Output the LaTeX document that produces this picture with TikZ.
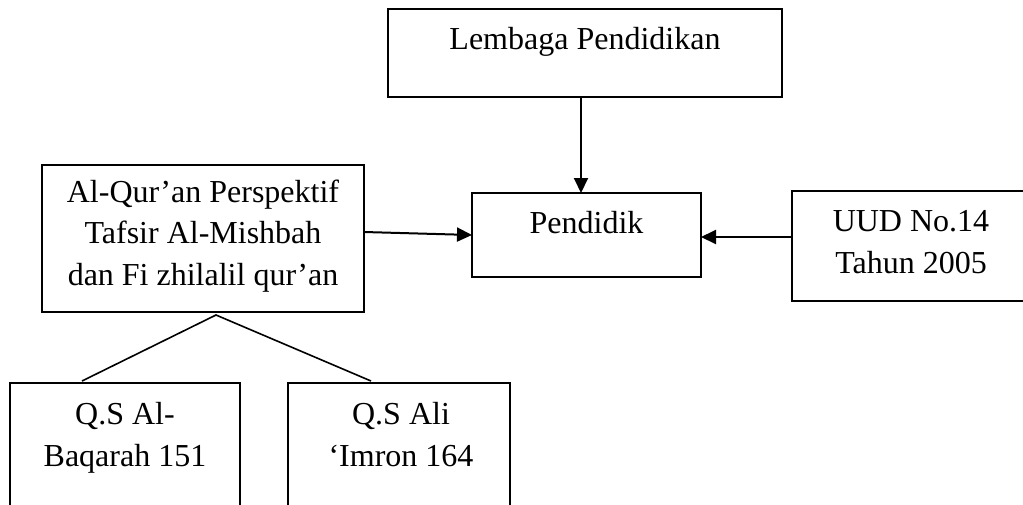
\documentclass[tikz,border=0pt]{standalone}
\usepackage{fontspec}
\setmainfont{Liberation Serif}
\usetikzlibrary{arrows.meta}
\begin{document}
\begin{tikzpicture}[x=1pt,y=-1pt,
  box/.style={draw=black,line width=1.8pt,inner sep=0pt,outer sep=0pt,rectangle},
  txt/.style={inner sep=0pt,anchor=base,align=center,font=\fontsize{32}{41.5}\selectfont},
  arr/.style={line width=2pt,-{Triangle[length=15pt,width=14pt]}},
  ln/.style={line width=1.6pt}]
\clip (0,0) rectangle (1023,504);
\fill[white] (0,0) rectangle (1023,504);
% boxes
\node[box,minimum width=394pt,minimum height=88pt] (lem) at (585,53) {};
\node[box,minimum width=229pt,minimum height=84pt] (pend) at (586.5,235) {};
\node[box,minimum width=322pt,minimum height=147pt] (alq) at (203,238.5) {};
\node[box,minimum width=238pt,minimum height=110pt] (uud) at (911,246) {};
\node[box,minimum width=230pt,minimum height=137pt] (q1) at (125,451.5) {};
\node[box,minimum width=222pt,minimum height=137pt] (q2) at (399,451.5) {};
% texts (anchor base = last line)
\node[txt] (tlem) at (585,49) {Lembaga Pendidikan};
\node[txt] (tpend) at (586.5,233) {Pendidik};
\node[txt] (talq) at (203,285) {Al-Qur’an Perspektif\\Tafsir Al-Mishbah\\dan Fi zhilalil qur’an};
\node[txt] (tuud) at (911,273) {UUD No.14\\Tahun 2005};
\node[txt] (tq1) at (125,466) {Q.S Al-\\Baqarah 151};
\node[txt] (tq2) at (401,466) {Q.S Ali\\‘Imron 164};
% connectors
\draw[arr] ([xshift=-4pt]lem.south) -- ([xshift=-5.5pt]pend.north);
\draw[arr] ([yshift=6.5pt]alq.east) -- (pend.west);
\draw[arr] ([yshift=9pt]uud.west) -- ([yshift=-2pt]pend.east);
\coordinate (apex) at ([xshift=13pt,yshift=-3pt]alq.south);
\draw[ln] ([xshift=-43pt,yshift=2pt]q1.north) -- (apex) -- ([xshift=-28pt,yshift=2pt]q2.north);
\end{tikzpicture}
\end{document}
